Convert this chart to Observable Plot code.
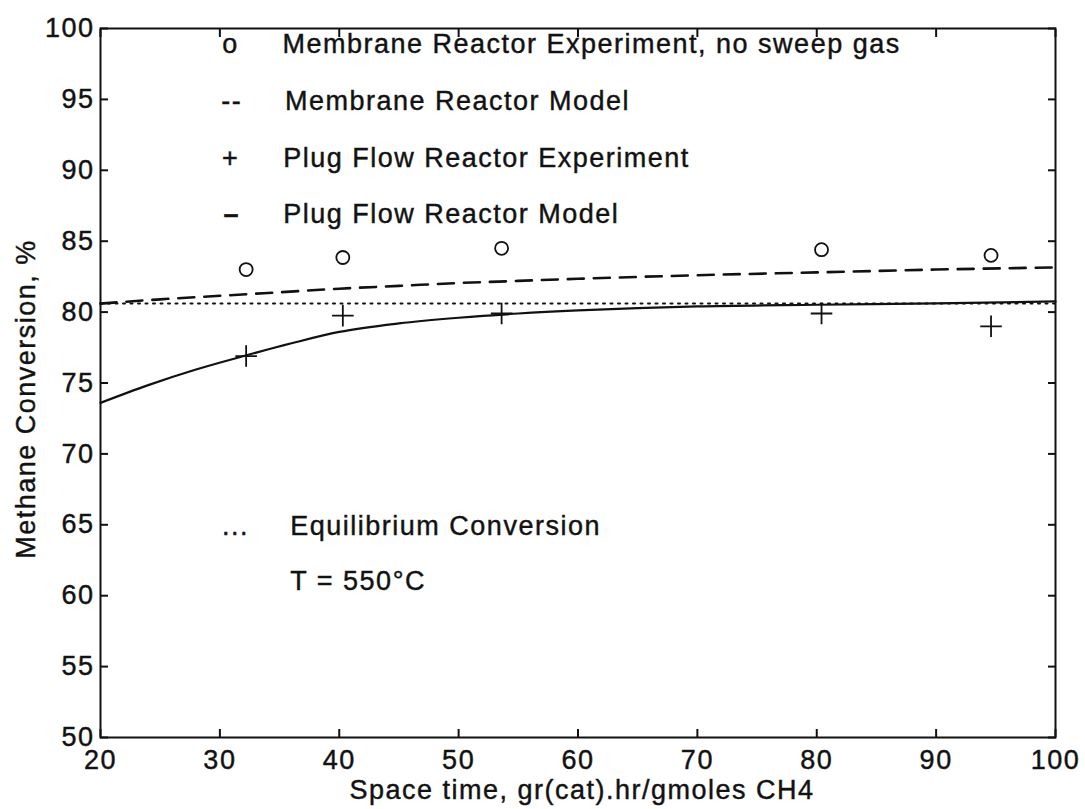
<!DOCTYPE html>
<html>
<head>
<meta charset="utf-8">
<script src="https://cdn.jsdelivr.net/npm/d3@7"></script>
<script src="https://cdn.jsdelivr.net/npm/@observablehq/plot@0.6"></script>
<style>
  html, body { margin: 0; padding: 0; background: #fff; }
  #chart svg text { letter-spacing: 1.5px; stroke: #1a1a1a; stroke-width: 0.45px; }
</style>
</head>
<body>
<div id="chart"></div>
<script>
// Membrane reactor experiment (circles)
const mrExpX = [32.2, 40.3, 53.6, 80.4, 94.6];
const mrExpY = [83.0, 83.85, 84.5, 84.4, 84.0];
// Plug flow reactor experiment (plus)
const pfrExpX = [32.2, 40.3, 53.6, 80.4, 94.6];
const pfrExpY = [76.9, 79.75, 79.9, 79.9, 79.0];
// Membrane reactor model (dashed)
const mrModX = [20, 25, 30, 35, 40, 45, 50, 55, 60, 70, 80, 90, 100];
const mrModY = [80.6, 80.9, 81.15, 81.4, 81.65, 81.85, 82.05, 82.2, 82.35, 82.6, 82.8, 83.0, 83.15];
// Plug flow reactor model (solid)
const pfrModX = [20, 24, 28, 32, 36, 40, 45, 50, 55, 60, 65, 70, 80, 90, 100];
const pfrModY = [73.6, 74.85, 75.95, 76.9, 77.8, 78.6, 79.2, 79.6, 79.9, 80.12, 80.28, 80.4, 80.52, 80.62, 80.75];
// Equilibrium conversion (dotted)
const eqX = [20, 100];
const eqY = [80.6, 80.6];

// Tick values
const xTicks = [20, 30, 40, 50, 60, 70, 80, 90, 100];
const yTicks = [50, 55, 60, 65, 70, 75, 80, 85, 90, 95, 100];

// In-plot annotations (legend written as text, MATLAB style)
const symText = ["o", "--", "+", "\u2013", "..."];
const symX = [30.9, 31.0, 30.9, 31.0, 31.3];
const symY = [98.24, 94.22, 90.2, 86.25, 64.25];
const noteText = [
  "Membrane Reactor Experiment, no sweep gas",
  "Membrane Reactor Model",
  "Plug Flow Reactor Experiment",
  "Plug Flow Reactor Model",
  "Equilibrium Conversion",
  "T = 550\u00B0C"
];
const noteX = [35.24, 35.45, 35.3, 35.3, 35.9, 35.9];
const noteY = [98.24, 94.22, 90.2, 86.25, 64.25, 60.37];

const xLabel = "Space time, gr(cat).hr/gmoles CH4";
const yLabel = "Methane Conversion, %";

const pts = (xs, ys) => xs.map((x, i) => ({x, y: ys[i]}));
const blank = () => "";
const symIdx = symText.map((d, i) => i);

const chart = Plot.plot({
  width: 1085,
  height: 809,
  marginLeft: 100,
  marginRight: 30,
  marginTop: 28,
  marginBottom: 72,
  style: {fontFamily: "'Liberation Sans', Arial, Helvetica, sans-serif", fontSize: "27px", background: "#fff", color: "#111"},
  x: {domain: [20, 100], label: null},
  y: {domain: [50, 100], label: null},
  marks: [
    // tick labels
    Plot.axisY({anchor: "left", ticks: yTicks, tickSize: 0, tickPadding: 6, label: null}),
    Plot.axisX({anchor: "bottom", ticks: xTicks, tickSize: 0, tickPadding: 12, label: null}),
    // inward ticks on all four sides
    Plot.axisY({anchor: "left", ticks: yTicks, tickSize: 8, dx: 8, tickFormat: blank, label: null, strokeWidth: 2}),
    Plot.axisY({anchor: "right", ticks: yTicks, tickSize: 8, dx: -8, tickFormat: blank, label: null, strokeWidth: 2}),
    Plot.axisX({anchor: "bottom", ticks: xTicks, tickSize: 8, dy: -8, tickFormat: blank, label: null, strokeWidth: 2}),
    Plot.axisX({anchor: "top", ticks: xTicks, tickSize: 8, dy: 8, tickFormat: blank, label: null, strokeWidth: 2}),
    // axis titles
    Plot.text([xLabel], {frameAnchor: "bottom", text: d => d, lineAnchor: "bottom", textAnchor: "middle", dy: 61, dx: 4}),
    Plot.text([yLabel], {frameAnchor: "left", text: d => d, rotate: -90, lineAnchor: "bottom", textAnchor: "middle", dx: -66, dy: 16}),
    // curves
    Plot.line(pts(eqX, eqY), {x: "x", y: "y", stroke: "#111", strokeWidth: 2, strokeDasharray: "2,5.5"}),
    Plot.line(pts(mrModX, mrModY), {x: "x", y: "y", stroke: "#111", strokeWidth: 2.6, strokeDasharray: "16,10", curve: "monotone-x"}),
    Plot.line(pts(pfrModX, pfrModY), {x: "x", y: "y", stroke: "#111", strokeWidth: 2.2, curve: "monotone-x"}),
    // markers
    Plot.dot(pts(mrExpX, mrExpY), {x: "x", y: "y", r: 6.5, stroke: "#111", strokeWidth: 1.8, fill: "none"}),
    Plot.dot(pts(pfrExpX, pfrExpY), {x: "x", y: "y", symbol: "plus", r: 7, stroke: "#111", strokeWidth: 1.8, fill: "none"}),
    // annotations
    Plot.text(symIdx.filter(i => i !== 3), {x: i => symX[i], y: i => symY[i], text: i => symText[i], textAnchor: "middle", lineAnchor: "bottom", fill: "#111"}),
    Plot.text([3], {x: i => symX[i], y: i => symY[i], text: i => symText[i], textAnchor: "middle", lineAnchor: "bottom", fill: "#111", fontWeight: "bold"}),
    Plot.text(noteText, {x: (d, i) => noteX[i], y: (d, i) => noteY[i], text: d => d, textAnchor: "start", lineAnchor: "bottom", fill: "#111"}),
    Plot.frame({stroke: "#111", strokeWidth: 2})
  ]
});
document.getElementById("chart").appendChild(chart);
</script>
</body>
</html>
